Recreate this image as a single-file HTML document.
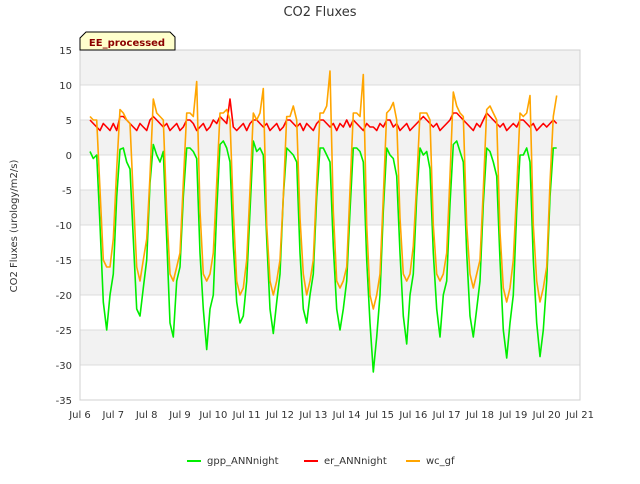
<!DOCTYPE html>
<html><head><meta charset="utf-8"><style>
body{margin:0;background:#fff;font-family:"DejaVu Sans",sans-serif;}
</style></head><body>
<svg id="chart" width="640" height="480" xmlns="http://www.w3.org/2000/svg" font-family="DejaVu Sans, sans-serif">
<text x="320" y="16" text-anchor="middle" font-size="13" fill="#333">CO2 Fluxes</text>
<g id="bands"></g>
<g id="grid"></g>
<g id="series"></g>
<g id="axes"></g>
<text transform="translate(17,226) rotate(-90)" text-anchor="middle" font-size="10" fill="#333">CO2 Fluxes (urology/m2/s)</text>
<g>
<path d="M86,32 L170,32 L175,37 L175,50 L80,50 L80,38 Z" fill="#ffffcc" stroke="#000" stroke-width="1"/>
<text x="127" y="46" text-anchor="middle" font-size="10" font-weight="bold" fill="#8b0000">EE_processed</text>
</g>
<g id="legend"></g>
</svg>
<script>
const yTicks=[15,10,5,0,-5,-10,-15,-20,-25,-30,-35];
const xTickLabels=["Jul 6","Jul 7","Jul 8","Jul 9","Jul 10","Jul 11","Jul 12","Jul 13","Jul 14","Jul 15","Jul 16","Jul 17","Jul 18","Jul 19","Jul 20","Jul 21"];
const xTickDays=[6,7,8,9,10,11,12,13,14,15,16,17,18,19,20,21];
const startDay=6.3, stepDay=0.1;
const gpp=[
0.5,-0.5,0,-10,-21,-25,-20,-17,-6,0.8,
1,-1,-2,-12,-22,-23,-19,-15,-4,1.5,
0,-1,0.5,-12,-24,-26,-18,-16,-6,1,
1,0.5,-0.5,-14,-22,-27.8,-22,-20,-8,1.5,
2,1,-1,-13,-21,-24,-23,-18,-8,2,
0.5,1,0,-12,-22,-25.5,-21,-17,-6,1,
0.5,0,-1,-14,-22,-24,-20,-17,-6,1,
1,0,-1,-13,-22,-25,-22,-18,-8,1,
1,0.5,-1,-15,-24,-31,-26,-20,-8,1,
0,-0.5,-3,-14,-23,-27,-20,-17,-6,1,
0,0.5,-2,-14,-22,-26,-20,-18,-7,1.5,
2,0.5,-1,-14,-23,-26,-22,-18,-7,1,
0.5,-1,-3,-15,-25,-29,-24,-20,-8,0,
0,1,-1,-15,-24,-28.8,-25,-18,-6,1,
1];
const er=[
5,4.5,4,3.5,4.5,4,3.5,4.5,3.5,5.5,
5.5,5,4.5,4,3.5,4.5,4,3.5,5,5.5,
5,4.5,4,4.5,3.5,4,4.5,3.5,4,5,
5,4.5,3.5,4,4.5,3.5,4,5,4.5,5.5,
5,4.5,8,4,3.5,4,4.5,3.5,4.5,5,
5,4.5,4,4.5,3.5,4,4.5,3.5,4,5,
5,4.5,4,4.5,3.5,4.5,4,3.5,4.5,5,
5,4.5,4,4.5,3.5,4.5,4,5,4,5,
4.5,4,3.5,4.5,4,4,3.5,4.5,4,5,
5,4,4.5,3.5,4,4.5,3.5,4,4.5,5,
5.5,5,4.5,4,4.5,3.5,4,4.5,5,6,
6,5.5,5,4.5,4,3.5,4.5,4,5,6,
5.5,5,4.5,4,4.5,3.5,4,4.5,4,5,
5,4.5,4,4.5,3.5,4,4.5,4,4.5,5,
4.5];
const wc=[
5.5,5,5,-5,-15,-16,-16,-12,-2,6.5,
6,5,4.5,-6,-16,-18,-15,-12,-3,8,
6,5.5,5,-8,-17,-18,-16,-14,-4,6,
6,5.5,10.5,-8,-17,-18,-17,-14,-4,6,
6,6.5,5,-8,-18,-20,-19,-15,-5,6,
5,6,9.5,-10,-18,-20,-18,-15,-6,5.5,
5.5,7,5,-9,-17,-20,-18,-15,-4,6,
6,7,12,-8,-18,-19,-18,-16,-5,6,
6,5.5,11.5,-10,-20,-22,-20,-17,-6,6,
6.5,7.5,5,-9,-17,-18,-17,-13,-4,6,
6,6,5,-10,-17,-18,-17,-14,-3,9,
7,6,5.5,-10,-17,-19,-17,-15,-5,6.5,
7,6,5,-11,-19,-21,-19,-15,-5,6,
5.5,6,8.5,-10,-18,-21,-19,-16,-4,5.5,
8.5];
const X0=80,X1=580,Y0=50,Y1=400,DMIN=6,DMAX=21,VMAX=15,VMIN=-35;
const xs=d=>X0+(d-DMIN)/(DMAX-DMIN)*(X1-X0);
const ys=v=>Y0+(VMAX-v)/(VMAX-VMIN)*(Y1-Y0);
const NS="http://www.w3.org/2000/svg";
function mk(tag,attrs,parent){const e=document.createElementNS(NS,tag);for(const k in attrs)e.setAttribute(k,attrs[k]);parent.appendChild(e);return e;}
const bands=document.getElementById('bands'),grid=document.getElementById('grid'),axes=document.getElementById('axes'),series=document.getElementById('series'),legend=document.getElementById('legend');
for(let i=0;i<yTicks.length-1;i++){
 const r=mk('rect',{x:X0,y:ys(yTicks[i]),width:X1-X0,height:ys(yTicks[i+1])-ys(yTicks[i]),fill:i%2===0?'#f2f2f2':'#ffffff'},bands);
 
 
}
yTicks.forEach(v=>{
 const l=mk('line',{x1:X0,x2:X1,y1:ys(v),y2:ys(v),stroke:'#dcdcdc','stroke-width':1},grid);
 
 
 const t=mk('text',{x:X0-8,y:ys(v)+4,'text-anchor':'end','font-size':10,fill:'#333'},axes);
 t.textContent=v;
 
 
});
const frame=mk('rect',{x:X0,y:Y0,width:X1-X0,height:Y1-Y0,fill:'none',stroke:'#d0d0d0'},axes);


xTickDays.forEach((d,i)=>{
 const t=mk('text',{x:xs(d),y:Y1+18,'text-anchor':'middle','font-size':10,fill:'#333'},axes);
 t.textContent=xTickLabels[i];
 
 
});
function drawSeries(vals,color,name){
 const pts=vals.map((v,i)=>xs(startDay+i*stepDay).toFixed(1)+','+ys(v).toFixed(1)).join(' ');
 const p=mk('polyline',{points:pts,fill:'none',stroke:color,'stroke-width':1.6,'stroke-linejoin':'round'},series);
 
 
}
drawSeries(gpp,'#00ee00','gpp-annnight-line');
drawSeries(er,'#ff0000','er-annnight-line');
drawSeries(wc,'#ffa500','wc-gf-line');
const legItems=[['gpp_ANNnight','#00ee00',187,'legend-gpp'],['er_ANNnight','#ff0000',304,'legend-er'],['wc_gf','#ffa500',406,'legend-wc']];
legItems.forEach(it=>{
 const g=mk('g',{},legend);
 
 
 mk('line',{x1:it[2],x2:it[2]+14,y1:461,y2:461,stroke:it[1],'stroke-width':2},g);
 const t=mk('text',{x:it[2]+20,y:464,'font-size':10,fill:'#333'},g);
 t.textContent=it[0];
});
</script>
</body></html>
